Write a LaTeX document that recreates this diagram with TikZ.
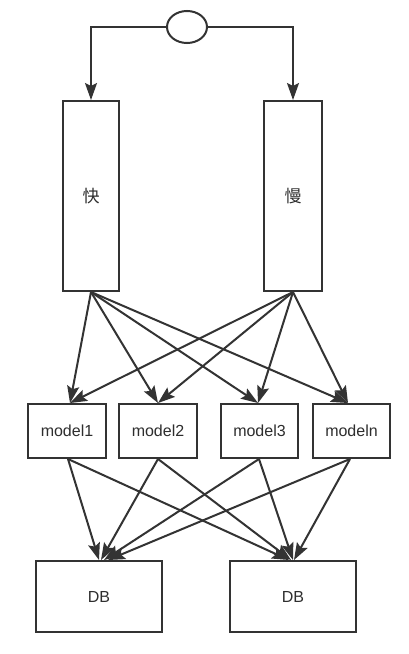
\documentclass[tikz,border=0pt]{standalone}
\usepackage{fontspec}
\setmainfont{Liberation Sans}
\newfontfamily\cjk{Noto Sans CJK SC}
\usetikzlibrary{arrows.meta,shapes.geometric}
\definecolor{lc}{HTML}{333333}
\begin{document}
\begin{tikzpicture}[x=1bp,y=-1bp,
  box/.style={draw=lc, line width=2bp, rectangle, inner sep=0pt, fill=white,
    font=\fontsize{16bp}{18bp}\selectfont, text=lc!90!black},
  arr/.style={-{Stealth[length=17bp,width=12bp,inset=3bp]}, draw=lc, line width=2bp}]
\useasboundingbox[fill=white] (0,0) rectangle (408,654);
% top ellipse
\node[ellipse, draw=lc, line width=2bp, minimum width=40bp, minimum height=32bp, inner sep=0pt] (o) at (187,27) {};
% tall boxes
\node[box, minimum width=56bp, minimum height=190bp, font=\fontsize{17bp}{18bp}\cjk] (fast) at (91,196) {快};
\node[box, minimum width=58bp, minimum height=190bp, font=\fontsize{17bp}{18bp}\cjk] (slow) at (293,196) {慢};
% models
\node[box, minimum width=78bp, minimum height=54bp] (m1) at (67,431) {model1};
\node[box, minimum width=78bp, minimum height=54bp] (m2) at (158,431) {model2};
\node[box, minimum width=77bp, minimum height=54bp] (m3) at (259.5,431) {model3};
\node[box, minimum width=77bp, minimum height=54bp] (mn) at (351.5,431) {modeln};
% DBs
\node[box, minimum width=126bp, minimum height=71bp] (db1) at (99,596.5) {DB};
\node[box, minimum width=126bp, minimum height=71bp] (db2) at (293,596.5) {DB};
% top connectors
\draw[arr] (o.west) -| (fast.north);
\draw[arr] (o.east) -| (slow.north);
% fast/slow to models
\foreach \s in {fast,slow}{
  \draw[arr] (\s.south) -- ([xshift=3bp]m1.north);
  \draw[arr] (\s.south) -- (m2.north);
  \draw[arr] (\s.south) -- ([xshift=-1.5bp]m3.north);
  \draw[arr] (\s.south) -- ([xshift=-3.5bp]mn.north);
}
% models to DBs
\draw[arr] ([xshift=1bp]m1.south) -- (db1.north);
\draw[arr] (m2.south) -- ([xshift=2bp]db1.north);
\draw[arr] ([xshift=-0.5bp]m3.south) -- ([xshift=5bp]db1.north);
\draw[arr] ([xshift=-1.5bp]mn.south) -- ([xshift=9bp]db1.north);
\draw[arr] ([xshift=1bp]m1.south) -- ([xshift=-4bp]db2.north);
\draw[arr] (m2.south) -- ([xshift=-2bp]db2.north);
\draw[arr] ([xshift=-0.5bp]m3.south) -- (db2.north);
\draw[arr] ([xshift=-1.5bp]mn.south) -- ([xshift=1bp]db2.north);
\end{tikzpicture}
\end{document}
